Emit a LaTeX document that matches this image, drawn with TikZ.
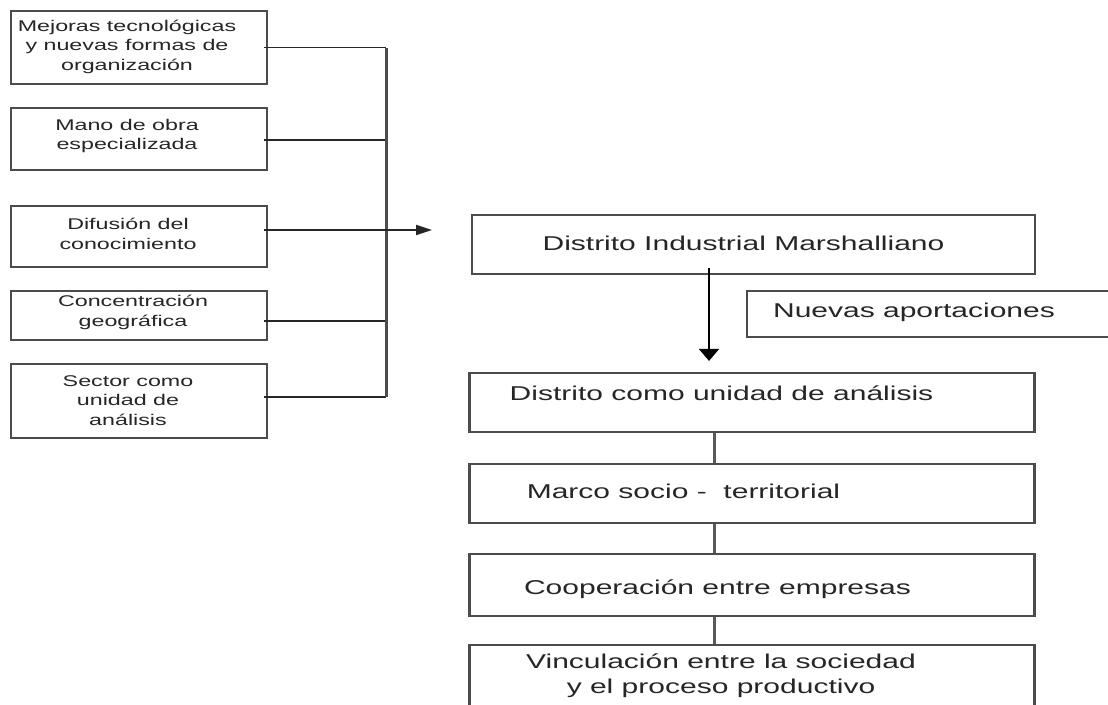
\documentclass[tikz,border=0pt]{standalone}
\usepackage{fontspec}
\usepackage{graphicx}
\setmainfont{Liberation Sans}
\usetikzlibrary{arrows.meta,calc}
\newcommand\hstr[1]{\scalebox{1.5}[1]{#1}}
\tikzset{
  box/.style={draw=black!70, line width=2.2pt, rectangle, inner sep=0pt, fill=none},
  ltxt/.style={align=center, inner sep=0pt, font=\fontsize{15.5}{19.5}\selectfont, text=black!85},
  rtxt/.style={align=center, inner sep=0pt, font=\fontsize{20}{25}\selectfont, text=black!85},
  conn/.style={draw=black!85, line width=1.8pt},
  busline/.style={draw=black!70, line width=3pt},
  vlink/.style={draw=black!65, line width=3pt},
  arr/.style={draw=black, line width=2pt, -{Triangle[length=12pt,width=20pt]}},
  harr/.style={draw=black!85, line width=1.8pt, -{Triangle[length=16pt,width=10pt]}}
}
\begin{document}
\begin{tikzpicture}[x=1pt,y=-1pt]
\clip (0,0) rectangle (1108,704);
\fill[white] (0,0) rectangle (1108,704);
% left boxes
\node[box, minimum width=256pt, minimum height=73pt] (b1) at (139,47.5) {};
\node[box, minimum width=256pt, minimum height=62pt] (b2) at (139,139) {};
\node[box, minimum width=256pt, minimum height=61pt] (b3) at (139,236.5) {};
\node[box, minimum width=256pt, minimum height=49pt] (b4) at (139,315.5) {};
\node[box, minimum width=256pt, minimum height=74pt] (b5) at (139,401) {};
\node[ltxt] (t1) at (127,46.5) {\hstr{Mejoras tecnológicas}\\\hstr{y nuevas formas de}\\\hstr{organización}};
\node[ltxt] (t2) at (127,136) {\hstr{Mano de obra}\\\hstr{especializada}};
\node[ltxt] (t3) at (128,234) {\hstr{Difusión del}\\\hstr{conocimiento}};
\node[ltxt] (t4) at (133,312.5) {\hstr{Concentración}\\\hstr{geográfica}};
\node[ltxt] (t5) at (128,400.5) {\hstr{Sector como}\\\hstr{unidad de}\\\hstr{análisis}};
% right boxes
\node[box, minimum width=563pt, minimum height=59pt] (dim) at (753.5,244.5) {};
\node[box, minimum width=400pt, minimum height=46pt] (nue) at (947,314) {};
\node[box, minimum width=565pt, minimum height=59pt] (d1) at (752,402.5) {};
\node[box, minimum width=565pt, minimum height=59pt] (d2) at (752,493.5) {};
\node[box, minimum width=565pt, minimum height=62pt] (d3) at (752,585) {};
\node[box, minimum width=565pt, minimum height=80pt] (d4) at (752,685) {};
\node[rtxt] (rt0) at (743.5,243) {\hstr{Distrito Industrial Marshalliano}};
\node[rtxt] (rt1) at (914,312) {\hstr{Nuevas aportaciones}};
\node[rtxt] (rt2) at (721.5,393) {\hstr{Distrito como unidad de análisis}};
\node[rtxt] (rt3) at (683.5,491) {\hstr{Marco socio -\ \ territorial}};
\node[rtxt] (rt4) at (717.5,589) {\hstr{Cooperación entre empresas}};
\node[rtxt] (rt5) at (721,675.5) {\hstr{Vinculación entre la sociedad}\\\hstr{y el proceso productivo}};
% bus on the left
\coordinate (busx) at (386,0);
\coordinate (tip) at (432,230);
\coordinate (ax) at (709,0);
\coordinate (cx) at (714,0);
\draw[conn] ([xshift=-4pt]b1.east) -- (b1.east -| busx);
\draw[conn] ([xshift=-4pt,yshift=-1pt]b2.east) -- ([yshift=-1pt]b2.east -| busx);
\draw[conn] ([xshift=-4pt,yshift=-5.5pt]b4.east) -- ([yshift=-5.5pt]b4.east -| busx);
\draw[conn] ([xshift=-4pt,yshift=4pt]b5.east) -- ([yshift=4pt]b5.east -| busx);
\draw[busline, line join=round] (b1.east -| busx) -- ([yshift=4pt]b5.east -| busx);
\draw[harr] ([xshift=-4pt,yshift=6.5pt]b3.east) -- (tip);
% right column
\draw[arr] ([yshift=7pt]dim.south -| ax) -- ([yshift=11pt]d1.north -| ax);
\draw[vlink] (d1.south -| cx) -- (d2.north -| cx);
\draw[vlink] (d2.south -| cx) -- (d3.north -| cx);
\draw[vlink] (d3.south -| cx) -- (d4.north -| cx);
\end{tikzpicture}
\end{document}
